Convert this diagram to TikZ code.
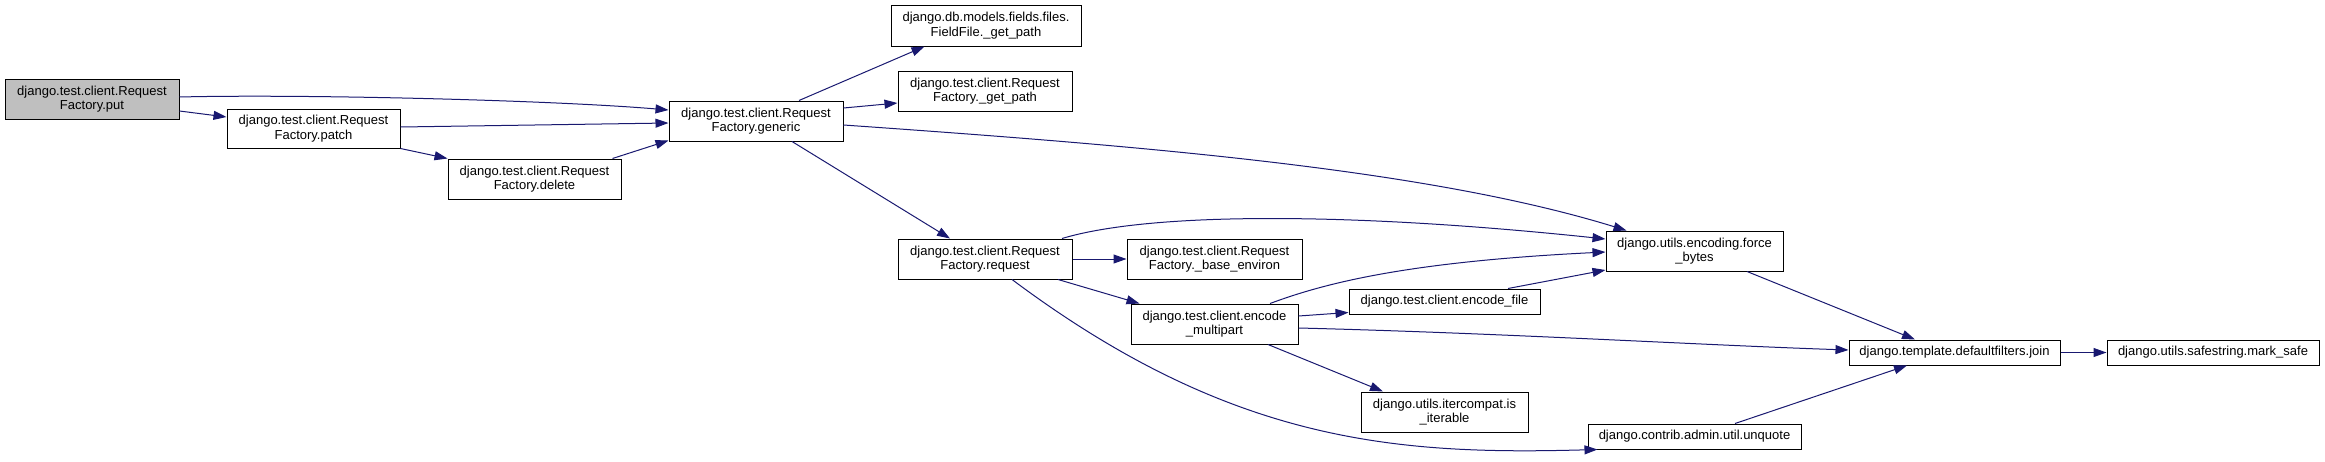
\documentclass[tikz,border=0pt]{standalone}
\usepackage{fontspec}
\setmainfont{Liberation Sans}
\usetikzlibrary{arrows.meta}
\definecolor{edgeblue}{HTML}{191970}
\definecolor{rootgray}{HTML}{BFBFBF}
\tikzset{
  box/.style={draw=black, line width=1pt, fill=white, inner sep=0pt, align=center,
    font=\fontsize{13}{14.5}\selectfont},
  edge/.style={draw=edgeblue, line width=1pt, -{Triangle[length=13pt,width=9pt]}},
}
\begin{document}
\begin{tikzpicture}[x=1pt,y=-1pt]
\useasboundingbox (0,0) rectangle (2325,461);
\node[box, fill=rootgray, minimum width=174, minimum height=40] (put) at (92,99) {django.test.client.Request\\Factory.put};
\node[box, minimum width=173, minimum height=39] (patch) at (313.5,128.5) {django.test.client.Request\\Factory.patch};
\node[box, minimum width=173, minimum height=40] (delete) at (534.5,179) {django.test.client.Request\\Factory.delete};
\node[box, minimum width=174, minimum height=40] (generic) at (756,121) {django.test.client.Request\\Factory.generic};
\node[box, minimum width=190, minimum height=41] (ffgp) at (986,25.5) {django.db.models.fields.files.\\FieldFile.\_get\_path};
\node[box, minimum width=174, minimum height=40] (rfgp) at (985,91) {django.test.client.Request\\Factory.\_get\_path};
\node[box, minimum width=174, minimum height=40] (request) at (985,259) {django.test.client.Request\\Factory.request};
\node[box, minimum width=175, minimum height=40] (base) at (1214.5,259) {django.test.client.Request\\Factory.\_base\_environ};
\node[box, minimum width=167, minimum height=40] (multipart) at (1214.5,324) {django.test.client.encode\\\_multipart};
\node[box, minimum width=191, minimum height=25] (encfile) at (1444.5,301.5) {django.test.client.encode\_file};
\node[box, minimum width=167, minimum height=40] (iter) at (1444.5,412) {django.utils.itercompat.is\\\_iterable};
\node[box, minimum width=177, minimum height=40] (force) at (1694.5,251) {django.utils.encoding.force\\\_bytes};
\node[box, minimum width=213, minimum height=25] (unquote) at (1694.5,436.5) {django.contrib.admin.util.unquote};
\node[box, minimum width=211, minimum height=25] (join) at (1954.5,352.5) {django.template.defaultfilters.join};
\node[box, minimum width=212, minimum height=25] (mark) at (2213,352.5) {django.utils.safestring.mark\_safe};

\draw[edge] ([yshift=2pt]put.east) .. controls (300,94) and (550,100) .. ([yshift=11pt]generic.west);
\draw[edge] ([yshift=-12pt]put.east) -- ([yshift=11.5pt]patch.west);
\draw[edge] ([yshift=1.5pt]patch.east) -- ([yshift=-2pt]generic.west);
\draw[edge] (patch.south east) -- (delete.north west);
\draw[edge] ([xshift=-9pt]delete.north east) -- ([yshift=1pt]generic.south west);
\draw[edge] ([xshift=43pt]generic.north) -- ([xshift=34pt]ffgp.south west);
\draw[edge] ([yshift=13pt]generic.east) -- ([yshift=-12pt]rfgp.west);
\draw[edge] ([yshift=-4pt]generic.east) .. controls (1143,146) and (1427,169) .. ([xshift=21pt]force.north west);
\draw[edge] ([xshift=36pt]generic.south) -- ([xshift=-35pt]request.north);
\draw[edge] ([xshift=77pt]request.north) .. controls (1150,212) and (1350,212) .. ([yshift=12pt]force.west);
\draw[edge] (request.east) -- (base.west);
\draw[edge] ([xshift=73pt]request.south) -- ([xshift=9pt]multipart.north west);
\draw[edge] ([xshift=27pt]request.south) .. controls (1232,444) and (1398,455) .. ([xshift=10pt]unquote.south west);
\draw[edge] ([xshift=55.5pt]multipart.north) .. controls (1320,285) and (1400,262) .. ([yshift=-1pt]force.west);
\draw[edge] ([yshift=8pt]multipart.east) -- ([yshift=-11pt]encfile.west);
\draw[edge] ([yshift=-4pt]multipart.east) .. controls (1500,333) and (1700,345) .. ([yshift=2.5pt]join.west);
\draw[edge] ([xshift=53.5pt]multipart.south) -- ([xshift=-61.5pt]iter.north);
\draw[edge] ([xshift=63.5pt]encfile.north) -- ([yshift=-19pt]force.west);
\draw[edge] ([xshift=52.5pt]force.south) -- ([xshift=-39.5pt]join.north);
\draw[edge] (join.east) -- (mark.west);
\draw[edge] ([xshift=40.5pt]unquote.north) -- ([xshift=-47.5pt]join.south);
\end{tikzpicture}
\end{document}
